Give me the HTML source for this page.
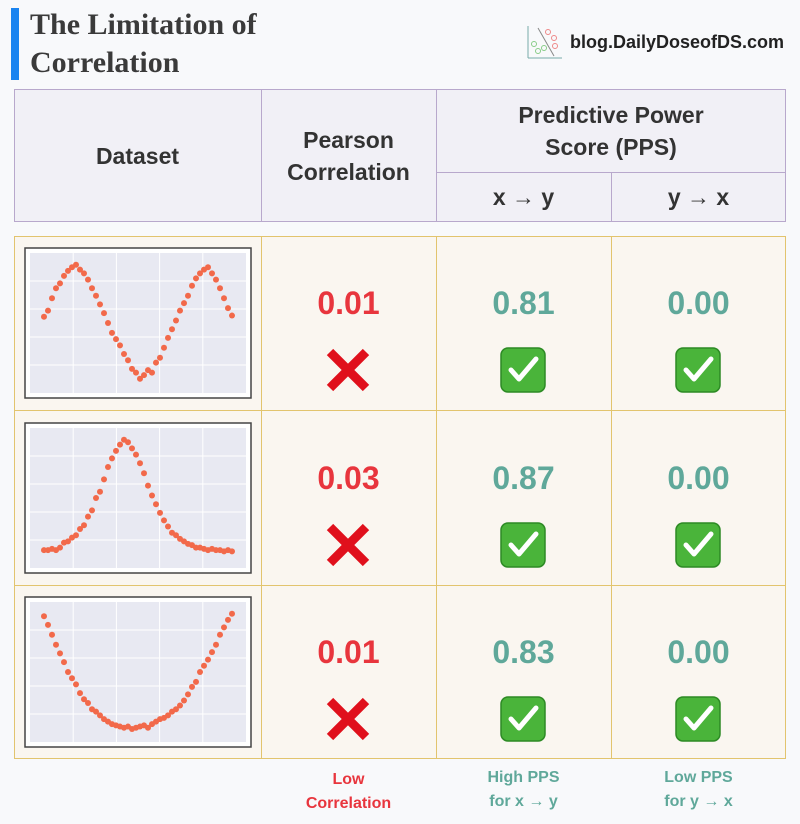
<!DOCTYPE html>
<html><head><meta charset="utf-8"><style>
body{margin:0;width:800px;height:824px;background:#f8f9fb;position:relative;font-family:"Liberation Sans",sans-serif;overflow:hidden}
.abs{position:absolute}
.title{left:30px;top:6px;font-family:"Liberation Serif",serif;font-weight:bold;font-size:30px;line-height:38px;color:#3a3a3a}
.hd{position:absolute;color:#333;font-size:23px;font-weight:bold;text-align:center;display:flex;align-items:center;justify-content:center;line-height:32px}
.num{position:absolute;font-size:32px;font-weight:bold;text-align:center;width:175px}
.red{color:#e8353d}.teal{color:#5fa89a}
.foot{position:absolute;font-size:16px;font-weight:bold;text-align:center;width:175px;line-height:24px}
</style></head><body>
<div class="abs" style="left:11px;top:8px;width:8px;height:72px;background:#1a84f0"></div>
<div class="abs title">The Limitation of<br>Correlation</div>
<svg class="abs" style="left:524px;top:24px" width="40" height="38"><line x1="4" y1="2" x2="4" y2="34" stroke="#7aa" /><line x1="4" y1="34" x2="38" y2="34" stroke="#7aa"/><line x1="14" y1="4" x2="30" y2="32" stroke="#888"/><circle cx="10" cy="20" r="2.5" fill="none" stroke="#8c8"/><circle cx="14" cy="27" r="2.5" fill="none" stroke="#8c8"/><circle cx="20" cy="24" r="2.5" fill="none" stroke="#8c8"/><circle cx="24" cy="8" r="2.5" fill="none" stroke="#e88"/><circle cx="30" cy="14" r="2.5" fill="none" stroke="#e88"/><circle cx="31" cy="22" r="2.5" fill="none" stroke="#e88"/></svg>
<div class="abs" style="left:570px;top:32px;font-size:18px;font-weight:bold;color:#222">blog.DailyDoseofDS.com</div>

<div class="abs" style="left:14px;top:89px;width:770px;height:131px;background:#f1f0f6;border:1px solid #b8a8cc"></div>
<div class="abs" style="left:261px;top:89px;width:1px;height:133px;background:#b8a8cc"></div>
<div class="abs" style="left:436px;top:89px;width:1px;height:133px;background:#b8a8cc"></div>
<div class="abs" style="left:436px;top:172px;width:350px;height:1px;background:#b8a8cc"></div>
<div class="abs" style="left:611px;top:172px;width:1px;height:50px;background:#b8a8cc"></div>
<div class="hd" style="left:14px;top:89px;width:247px;height:133px">Dataset</div>
<div class="hd" style="left:261px;top:89px;width:175px;height:133px">Pearson<br>Correlation</div>
<div class="hd" style="left:436px;top:89px;width:350px;height:83px">Predictive Power<br>Score (PPS)</div>
<div class="hd" style="left:436px;top:172px;width:175px;height:50px">x → y</div>
<div class="hd" style="left:611px;top:172px;width:175px;height:50px">y → x</div>

<div class="abs" style="left:14px;top:236px;width:770px;height:521px;background:#faf6f0;border:1px solid #e2c46e"></div>
<div class="abs" style="left:261px;top:236px;width:1px;height:523px;background:#e2c46e"></div>
<div class="abs" style="left:436px;top:236px;width:1px;height:523px;background:#e2c46e"></div>
<div class="abs" style="left:611px;top:236px;width:1px;height:523px;background:#e2c46e"></div>
<div class="abs" style="left:14px;top:410px;width:772px;height:1px;background:#e2c46e"></div>
<div class="abs" style="left:14px;top:585px;width:772px;height:1px;background:#e2c46e"></div>

<svg id="plots" class="abs" style="left:0;top:0" width="800" height="824"></svg>

<div class="foot red" style="left:261px;top:768px">Low<br>Correlation</div>
<div class="foot teal" style="left:436px;top:766px">High PPS<br>for x → y</div>
<div class="foot teal" style="left:611px;top:766px">Low PPS<br>for y → x</div>

<script>
const xs = [0.03,0.05,0.07,0.09,0.11,0.13,0.15,0.17,0.19,0.21,0.23,0.25,0.27,0.29,0.31,0.33,0.35,0.37,0.39,0.41,0.43,0.45,0.47,0.49,0.51,0.53,0.55,0.57,0.59,0.61,0.63,0.65,0.67,0.69,0.71,0.73,0.75,0.77,0.79,0.81,0.83,0.85,0.87,0.89,0.91,0.93,0.95,0.97];
const ysSine = [0.55,0.6,0.7,0.78,0.82,0.88,0.92,0.95,0.97,0.93,0.9,0.85,0.78,0.72,0.65,0.58,0.5,0.42,0.37,0.32,0.25,0.2,0.13,0.1,0.05,0.08,0.12,0.1,0.18,0.22,0.3,0.38,0.45,0.52,0.6,0.66,0.72,0.8,0.86,0.9,0.93,0.95,0.9,0.85,0.78,0.7,0.62,0.56];
const ysBell = [0.08,0.08,0.09,0.08,0.1,0.14,0.15,0.18,0.2,0.25,0.28,0.35,0.4,0.5,0.55,0.65,0.75,0.82,0.88,0.93,0.97,0.95,0.9,0.85,0.78,0.7,0.6,0.52,0.45,0.38,0.32,0.27,0.22,0.2,0.17,0.15,0.13,0.12,0.1,0.1,0.09,0.08,0.09,0.08,0.08,0.07,0.08,0.07];
const ysU = [0.95,0.88,0.8,0.72,0.65,0.58,0.5,0.45,0.4,0.33,0.28,0.25,0.2,0.18,0.15,0.12,0.1,0.08,0.07,0.06,0.05,0.06,0.04,0.05,0.06,0.07,0.05,0.08,0.1,0.12,0.13,0.15,0.18,0.2,0.23,0.27,0.32,0.38,0.42,0.5,0.55,0.6,0.66,0.72,0.8,0.86,0.92,0.97];
const pearson = ["0.01","0.03","0.01"];
const ppsXY = ["0.81","0.87","0.83"];
const ppsYX = ["0.00","0.00","0.00"];
const series = [ysSine, ysBell, ysU];

const NS="http://www.w3.org/2000/svg";
const svg=document.getElementById('plots');
function mk(t,a){const e=document.createElementNS(NS,t);for(const k in a)e.setAttribute(k,a[k]);svg.appendChild(e);return e;}
const rowTop=[236,411,585];
series.forEach((ys,r)=>{
  const bx=25,by=rowTop[r]+12,bw=226,bh=150;
  const frame=mk('rect',{x:bx,y:by,width:bw,height:bh,fill:'#fff',stroke:'#444','stroke-width':1.5});
  
  
  const px=bx+5,py=by+5,pw=bw-10,ph=bh-10;
  mk('rect',{x:px,y:py,width:pw,height:ph,fill:'#e8e9f2'});
  for(let i=1;i<5;i++){mk('line',{x1:px+pw*i/5,y1:py,x2:px+pw*i/5,y2:py+ph,stroke:'#fff','stroke-width':1});}
  for(let i=1;i<5;i++){mk('line',{x1:px,y1:py+ph*i/5,x2:px+pw,y2:py+ph*i/5,stroke:'#fff','stroke-width':1});}
  const sx=v=>px+8+v*(pw-16), sy=v=>py+ph-8-v*(ph-16);
  xs.forEach((x,i)=>{
    const c=mk('circle',{cx:sx(x),cy:sy(ys[i]),r:3,fill:'#f2694a'});
    
    
  });
  const cy=rowTop[r];
  const x0=348,y0=cy+134;
  const g=mk('path',{d:`M${x0-18} ${y0-18}L${x0+18} ${y0+18}M${x0+18} ${y0-18}L${x0-18} ${y0+18}`,stroke:'#e0101c','stroke-width':9});
  
  
  [523,698].forEach(cx=>{
    const b=mk('rect',{x:cx-22,y:y0-22,width:44,height:44,rx:7,fill:'#4ab43a',stroke:'#2c8a24','stroke-width':1.5});
    
    
    mk('path',{d:`M${cx-12} ${y0}L${cx-4} ${y0+9}L${cx+13} ${y0-11}`,stroke:'#fff','stroke-width':5,fill:'none','stroke-linecap':'round','stroke-linejoin':'round'});
  });
  const vals=[[261,pearson[r],'red','pearson-value'],[436,ppsXY[r],'teal','pps-xy-value'],[611,ppsYX[r],'teal','pps-yx-value']];
  vals.forEach(v=>{
    const d=document.createElement('div');
    d.className='num '+v[2];
    d.style.left=v[0]+'px';d.style.top=(cy+49)+'px';
    d.textContent=v[1];
    
    
    document.body.appendChild(d);
  });
});
</script>
</body></html>
